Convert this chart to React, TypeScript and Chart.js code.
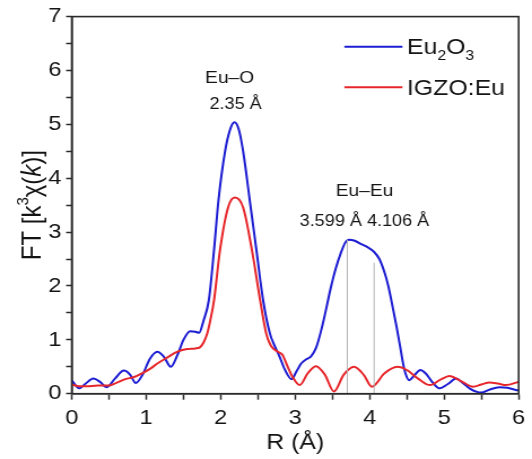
import React, { useEffect, useRef } from "react";
import { Chart, registerables } from "chart.js";

Chart.register(...registerables);

// ---- Data ----
const eu2o3R = [0.00, 0.05, 0.10, 0.18, 0.29, 0.38, 0.47, 0.58, 0.70, 0.78, 0.86, 0.95, 1.05, 1.15, 1.24, 1.33, 1.42, 1.50, 1.59, 1.66, 1.71, 1.77, 1.84, 1.91, 1.97, 2.06, 2.13, 2.185, 2.24, 2.30, 2.39, 2.48, 2.57, 2.66, 2.72, 2.79, 2.86, 2.95, 3.02, 3.08, 3.15, 3.21, 3.28, 3.35, 3.42, 3.48, 3.55, 3.61, 3.67, 3.72, 3.80, 3.88, 3.97, 4.06, 4.13, 4.19, 4.25, 4.30, 4.36, 4.41, 4.45, 4.48, 4.53, 4.60, 4.68, 4.75, 4.85, 4.94, 5.05, 5.16, 5.25, 5.35, 5.45, 5.50, 5.60, 5.74, 5.85, 5.96, 6.00];
const eu2o3FT = [0.25, 0.16, 0.10, 0.18, 0.28, 0.22, 0.12, 0.28, 0.43, 0.36, 0.20, 0.35, 0.65, 0.78, 0.68, 0.50, 0.72, 1.00, 1.16, 1.15, 1.13, 1.36, 1.73, 2.66, 3.59, 4.51, 4.92, 5.04, 4.92, 4.51, 3.59, 2.66, 1.73, 1.12, 0.90, 0.69, 0.45, 0.27, 0.42, 0.56, 0.64, 0.69, 0.85, 1.18, 1.60, 1.98, 2.35, 2.60, 2.80, 2.86, 2.84, 2.78, 2.72, 2.63, 2.50, 2.29, 2.00, 1.67, 1.25, 0.87, 0.55, 0.38, 0.25, 0.34, 0.44, 0.38, 0.20, 0.10, 0.18, 0.28, 0.20, 0.09, 0.03, 0.02, 0.07, 0.12, 0.11, 0.07, 0.06];

const igzoR = [0.00, 0.10, 0.20, 0.35, 0.49, 0.60, 0.72, 0.84, 0.95, 1.05, 1.15, 1.28, 1.42, 1.55, 1.66, 1.72, 1.77, 1.82, 1.86, 1.91, 1.99, 2.10, 2.19, 2.30, 2.42, 2.53, 2.61, 2.67, 2.73, 2.78, 2.83, 2.90, 2.97, 3.06, 3.17, 3.28, 3.40, 3.52, 3.65, 3.79, 3.92, 4.03, 4.20, 4.37, 4.50, 4.65, 4.81, 4.95, 5.07, 5.22, 5.39, 5.50, 5.61, 5.72, 5.83, 6.00];
const igzoFT = [0.17, 0.14, 0.14, 0.15, 0.15, 0.20, 0.27, 0.31, 0.38, 0.46, 0.56, 0.67, 0.78, 0.83, 0.84, 0.86, 0.95, 1.12, 1.36, 1.73, 2.66, 3.46, 3.64, 3.46, 2.66, 1.73, 1.12, 0.90, 0.81, 0.77, 0.72, 0.50, 0.30, 0.16, 0.38, 0.51, 0.35, 0.04, 0.35, 0.50, 0.35, 0.13, 0.38, 0.50, 0.44, 0.28, 0.16, 0.26, 0.33, 0.24, 0.13, 0.17, 0.21, 0.19, 0.16, 0.22];

// Eu–Eu marker lines (R position, height)
const markerR = [3.70, 4.06];
const markerTop = [2.86, 2.43];

const seriesNames = ["Eu2O3", "IGZO:Eu"];
const xTickLabels = ["0", "1", "2", "3", "4", "5", "6"];
const yTickLabels = ["0", "1", "2", "3", "4", "5", "6", "7"];

const annotations = [
  { text: "Eu–O", x: 2.12, y: 5.86, size: 17 },
  { text: "2.35 Å", x: 2.2, y: 5.36, size: 16 },
  { text: "Eu–Eu", x: 3.93, y: 3.75, size: 17 },
  { text: "3.599 Å 4.106 Å", x: 3.93, y: 3.2, size: 16 },
];

const FONT = '"Liberation Sans", Arial, Helvetica, sans-serif';
const BLUE = "#1c1cd2";
const RED = "#e6262a";
const TEXT = "#141414";

const BITMAP_W = 471;
const DISPLAY_W = 532;
const H = 459;

const textPlugin = {
  id: "textPlugin",
  afterDraw(chart: any) {
    const { ctx, chartArea, scales } = chart;
    const { left, top, right, bottom } = chartArea;
    const xs = scales.x;
    const ys = scales.y;
    ctx.save();
    // frame
    ctx.strokeStyle = "#2a2a2a";
    ctx.lineWidth = 1.6;
    ctx.strokeRect(left, top, right - left, bottom - top);

    ctx.fillStyle = TEXT;
    ctx.textAlign = "center";
    ctx.textBaseline = "middle";
    annotations.forEach((a) => {
      ctx.font = `${a.size}px ${FONT}`;
      ctx.fillText(a.text, xs.getPixelForValue(a.x), ys.getPixelForValue(a.y));
    });

    // legend
    const legendX0 = xs.getPixelForValue(3.66);
    const legendX1 = xs.getPixelForValue(4.44);
    const textX = xs.getPixelForValue(4.5);
    const rows = [
      { color: BLUE, y: ys.getPixelForValue(6.44) },
      { color: RED, y: ys.getPixelForValue(5.69) },
    ];
    rows.forEach((r) => {
      ctx.strokeStyle = r.color;
      ctx.lineWidth = 2;
      ctx.beginPath();
      ctx.moveTo(legendX0, r.y);
      ctx.lineTo(legendX1, r.y);
      ctx.stroke();
    });
    ctx.textAlign = "left";
    ctx.textBaseline = "alphabetic";
    // Eu2O3 with subscripts
    let cx = textX;
    const base1 = rows[0].y + 7.5;
    const parts = [
      { t: "Eu", s: 22, dy: 0 },
      { t: "2", s: 14, dy: 6 },
      { t: "O", s: 22, dy: 0 },
      { t: "3", s: 14, dy: 6 },
    ];
    parts.forEach((p) => {
      ctx.font = `${p.s}px ${FONT}`;
      ctx.fillText(p.t, cx, base1 + p.dy);
      cx += ctx.measureText(p.t).width;
    });
    ctx.font = `22px ${FONT}`;
    ctx.fillText(seriesNames[1], textX, rows[1].y + 7.5);

    // x title
    ctx.textAlign = "center";
    ctx.font = `22px ${FONT}`;
    ctx.fillText("R (Å)", (left + right) / 2, 449);

    // y title
    ctx.translate(29.5, (top + bottom) / 2);
    ctx.rotate(-Math.PI / 2);
    const yparts = [
      { t: "FT [k", f: `24px ${FONT}`, dy: 0 },
      { t: "3", f: `15px ${FONT}`, dy: -9 },
      { t: "χ(", f: `24px ${FONT}`, dy: 0 },
      { t: "k", f: `italic 24px ${FONT}`, dy: 0 },
      { t: ")]", f: `24px ${FONT}`, dy: 0 },
    ];
    let total = 0;
    yparts.forEach((p) => {
      ctx.font = p.f;
      total += ctx.measureText(p.t).width;
    });
    let px = -total / 2;
    ctx.textAlign = "left";
    ctx.textBaseline = "middle";
    yparts.forEach((p) => {
      ctx.font = p.f;
      ctx.fillText(p.t, px, p.dy);
      px += ctx.measureText(p.t).width;
    });
    ctx.restore();
  },
};

export default function App() {
  const ref = useRef<HTMLCanvasElement | null>(null);
  useEffect(() => {
    if (!ref.current) return;
    const toPts = (xs: number[], ys: number[]) => xs.map((x, i) => ({ x, y: ys[i] }));
    const markerSets = markerR.map((r, i) => ({
      label: "marker" + i,
      data: [
        { x: r, y: 0 },
        { x: r, y: markerTop[i] },
      ],
      borderColor: "#b4b4b4",
      borderWidth: 1,
      pointRadius: 0,
      tension: 0,
    }));
    const chart = new Chart(ref.current, {
      type: "line",
      data: {
        datasets: [
          ...markerSets,
          {
            label: seriesNames[1],
            data: toPts(igzoR, igzoFT),
            borderColor: RED,
            borderWidth: 2,
            pointRadius: 0,
            cubicInterpolationMode: "monotone",
          },
          {
            label: seriesNames[0],
            data: toPts(eu2o3R, eu2o3FT),
            borderColor: BLUE,
            borderWidth: 2,
            pointRadius: 0,
            cubicInterpolationMode: "monotone",
          },
        ] as any,
      },
      options: {
        responsive: false,
        animation: false,
        devicePixelRatio: 1,
        layout: { padding: { left: 0, top: 15.7, right: BITMAP_W - 462.4, bottom: 0 } },
        plugins: { legend: { display: false }, tooltip: { enabled: false }, title: { display: false } },
        scales: {
          x: {
            type: "linear",
            min: 0,
            max: 6,
            afterFit: (s: any) => {
              s.height = H - 393.7;
            },
            afterBuildTicks: (s: any) => {
              const t = [];
              for (let i = 0; i <= 12; i++) t.push({ value: i * 0.5 });
              s.ticks = t;
            },
            ticks: {
              autoSkip: false,
              maxRotation: 0,
              padding: 6,
              color: TEXT,
              font: { family: FONT, size: 21 },
              callback: (v: any) => (Number.isInteger(v) ? xTickLabels[v] : ""),
            },
            grid: { drawOnChartArea: false, drawTicks: true, tickLength: 6, tickColor: "#2a2a2a", tickWidth: 1.5 },
            border: { display: true, color: "#2a2a2a", width: 1.6 },
          },
          y: {
            type: "linear",
            min: 0,
            max: 7,
            afterFit: (s: any) => {
              s.width = 63.5;
            },
            afterBuildTicks: (s: any) => {
              const t = [];
              for (let i = 0; i <= 14; i++) t.push({ value: i * 0.5 });
              s.ticks = t;
            },
            ticks: {
              autoSkip: false,
              padding: 4,
              color: TEXT,
              font: { family: FONT, size: 21 },
              callback: (v: any) => (Number.isInteger(v) ? yTickLabels[v] : ""),
            },
            grid: { drawOnChartArea: false, drawTicks: true, tickLength: 5, tickColor: "#2a2a2a", tickWidth: 1.5 },
            border: { display: true, color: "#2a2a2a", width: 1.6 },
          },
        },
      } as any,
      plugins: [textPlugin],
    });
    return () => chart.destroy();
  }, []);
  return (
    <div style={{ position: "fixed", left: 0, top: 0, width: DISPLAY_W, height: H, background: "#fff" }}>
      <canvas
        ref={ref}
        width={BITMAP_W}
        height={H}
        style={{ width: DISPLAY_W + "px", height: H + "px", display: "block" }}
      />
    </div>
  );
}
